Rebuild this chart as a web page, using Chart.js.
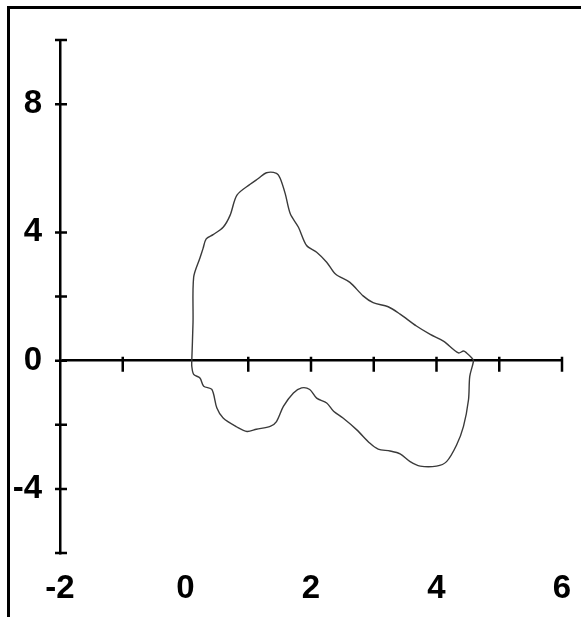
<!DOCTYPE html>
<html>
<head>
<meta charset="utf-8">
<script src="https://cdn.jsdelivr.net/npm/chart.js@4"></script>
<style>
    html, body { margin: 0; padding: 0; background: #fff; }
    #wrap { position: relative; width: 581px; height: 617px; }
    #frame {
        position: absolute; left: 7px; top: 6px; right: 0; bottom: 0;
        border-left: 3px solid #000; border-top: 3px solid #000;
        pointer-events: none;
    }
</style>
</head>
<body>
<div id="wrap">
    <canvas id="loopChart"></canvas>
    <div id="frame"></div>
</div>
<script>
// Loop outline, traced clockwise from the crossing near x = 0.1
const loopX = [
    0.10, 0.12, 0.13, 0.23, 0.28, 0.33, 0.44, 0.60, 0.71, 0.82, 1.03, 1.16, 1.29, 1.45,
    1.51, 1.59, 1.67, 1.80, 1.93, 2.09, 2.25, 2.39, 2.62, 2.83, 2.99, 3.23, 3.42, 3.68,
    3.90, 4.11, 4.35, 4.43, 4.48, 4.56, 4.59, 4.53, 4.51, 4.43, 4.32, 4.16, 4.00, 3.74,
    3.58, 3.42, 3.26, 3.07, 2.94, 2.73, 2.51, 2.36, 2.25, 2.09, 1.98, 1.85, 1.72, 1.56,
    1.45, 1.35, 1.13, 0.98, 0.82, 0.60, 0.50, 0.42, 0.29, 0.23, 0.13, 0.10, 0.10
];
const loopY = [
    0.00, 1.20, 2.60, 3.20, 3.50, 3.80, 3.93, 4.16, 4.53, 5.16, 5.50, 5.68, 5.86, 5.84,
    5.68, 5.20, 4.58, 4.16, 3.59, 3.38, 3.07, 2.70, 2.44, 2.02, 1.81, 1.68, 1.45, 1.08,
    0.82, 0.61, 0.24, 0.30, 0.24, 0.09, 0.00, -0.49, -1.22, -2.05, -2.63, -3.15, -3.29, -3.29,
    -3.15, -2.91, -2.82, -2.76, -2.58, -2.16, -1.79, -1.58, -1.32, -1.17, -0.90, -0.85, -1.01, -1.43,
    -1.90, -2.05, -2.14, -2.21, -2.07, -1.79, -1.48, -0.90, -0.80, -0.54, -0.43, -0.17, 0.00
];

// Axis marks as they appear in the figure
const xTickLabels = [-2, 0, 2, 4, 6];
const yTickLabels = [8, 4, 0, -4];
const xTickMarks = [-1, 1, 2, 3, 4, 5, 6];
const yTickMarks = [10, 8, 4, 2, 0, -2, -4, -6];

const labelFont = { family: "'Liberation Sans', Arial, sans-serif", size: 33, weight: "bold" };

// Small cross-shaped tick marks on both axes
const crossTicks = {
    id: "crossTicks",
    afterDraw(chart) {
        const ctx = chart.ctx;
        const xs = chart.scales.x;
        const ys = chart.scales.y;
        const y0 = ys.getPixelForValue(0);
        const xLeft = xs.getPixelForValue(-2);
        ctx.save();
        ctx.strokeStyle = "#000";
        ctx.lineWidth = 2.5;
        ctx.beginPath();
        xTickMarks.forEach((v) => {
            const px = xs.getPixelForValue(v);
            ctx.moveTo(px, y0 - 4);
            ctx.lineTo(px, y0 + 11);
        });
        yTickMarks.forEach((v) => {
            const py = ys.getPixelForValue(v);
            ctx.moveTo(xLeft - 5, py);
            ctx.lineTo(xLeft + 7, py);
        });
        ctx.stroke();
        ctx.restore();
    },
};

const ctx = document.getElementById("loopChart").getContext("2d");

new Chart(ctx, {
    type: "scatter",
    data: {
        datasets: [
            {
                data: loopX.map((x, i) => ({ x: x, y: loopY[i] })),
                showLine: true,
                borderColor: "#3a3a3a",
                borderWidth: 1.4,
                pointRadius: 0,
                tension: 0.3,
                fill: false,
            },
        ],
    },
    options: {
        responsive: true,
        maintainAspectRatio: false,
        animation: false,
        layout: { padding: { top: 40, right: 19, left: 0, bottom: 0 } },
        plugins: { legend: { display: false }, tooltip: { enabled: false } },
        scales: {
            x: {
                type: "linear",
                min: -2,
                max: 6,
                afterFit(scale) {
                    scale.height = 64;
                    scale.paddingLeft = 0;
                    scale.paddingRight = 0;
                },
                border: { display: false },
                grid: { display: false, drawTicks: false },
                ticks: {
                    stepSize: 2,
                    autoSkip: false,
                    maxRotation: 0,
                    padding: 16,
                    color: "#000",
                    font: labelFont,
                    callback: (v) => (xTickLabels.includes(v) ? String(v) : ""),
                },
            },
            y: {
                type: "linear",
                min: -6,
                max: 10,
                afterFit(scale) { scale.width = 60; },
                border: { display: true, color: "#000", width: 2.5 },
                grid: {
                    drawTicks: false,
                    lineWidth: 2.5,
                    color: (c) => (c.tick && c.tick.value === 0 ? "#000" : "rgba(0,0,0,0)"),
                },
                ticks: {
                    stepSize: 2,
                    autoSkip: false,
                    padding: 18,
                    color: "#000",
                    font: labelFont,
                    callback: (v) => (yTickLabels.includes(v) ? String(v) : ""),
                },
            },
        },
    },
    plugins: [crossTicks],
});
</script>
</body>
</html>
